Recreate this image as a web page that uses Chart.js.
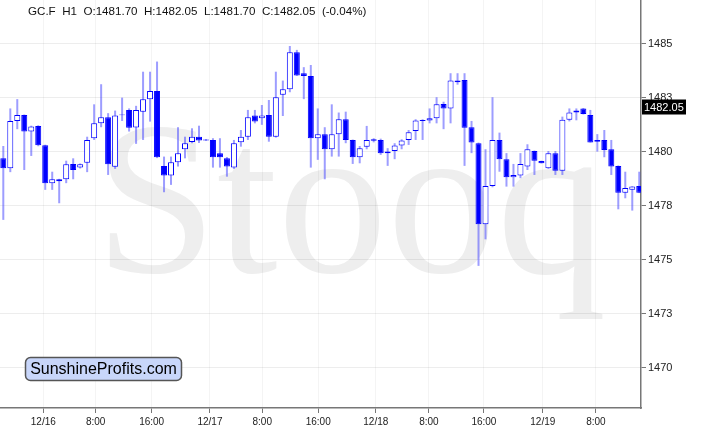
<!DOCTYPE html>
<html>
<head>
<meta charset="utf-8">
<script src="https://cdn.jsdelivr.net/npm/chart.js@4"></script>
<style>
  html, body { margin: 0; padding: 0; background: #fff; }
  #wrap { width: 701px; height: 438px; }
</style>
</head>
<body>
<div id="wrap"><canvas id="candles" width="701" height="438"></canvas></div>
<script>
// hourly GC.F candles, left to right
let open  = [1479.69,1479.23,1481.42,1481.69,1480.93,1481.19,1480.30,1478.54,1478.72,1478.72,
             1479.43,1479.26,1479.49,1480.62,1481.31,1481.59,1479.30,1481.72,1481.93,1481.12,
             1481.85,1482.43,1482.81,1479.34,1478.89,1479.51,1480.11,1480.45,1480.69,1480.56,
             1480.54,1479.93,1479.69,1479.26,1480.43,1480.69,1481.67,1481.55,1481.70,1480.69,
             1482.63,1482.89,1484.60,1483.63,1483.50,1480.62,1480.81,1480.11,1480.81,1481.50,
             1480.54,1479.74,1480.23,1480.50,1480.54,1479.93,1480.03,1480.28,1480.54,1480.96,
             1481.42,1481.44,1481.55,1482.21,1482.00,1483.21,1483.32,1481.13,1480.39,1476.64,
             1478.41,1480.54,1479.65,1478.81,1478.89,1479.31,1480.03,1479.57,1479.23,1479.93,
             1479.12,1481.47,1481.81,1482.00,1481.70,1480.46,1480.54,1480.11,1479.34,1478.10,
             1478.23,1478.41];
let high  = [1480.26,1482.00,1482.43,1481.72,1481.20,1481.22,1480.32,1479.07,1478.74,1479.58,
             1479.69,1479.45,1480.69,1482.19,1483.12,1481.78,1481.90,1482.50,1482.00,1482.12,
             1483.70,1483.70,1484.17,1479.77,1479.77,1481.13,1480.69,1481.08,1481.20,1480.58,
             1480.62,1480.62,1479.75,1480.54,1481.00,1481.93,1481.93,1482.16,1482.39,1483.70,
             1483.29,1484.89,1484.71,1483.91,1484.01,1482.00,1481.13,1482.19,1481.81,1481.85,
             1480.56,1480.26,1481.19,1480.62,1480.60,1480.16,1480.39,1480.57,1481.00,1481.50,
             1481.50,1482.00,1482.52,1482.31,1483.63,1483.63,1483.63,1481.42,1480.42,1480.11,
             1482.52,1480.88,1479.93,1479.43,1479.93,1480.34,1480.05,1479.58,1480.03,1480.03,
             1481.62,1482.00,1482.00,1482.02,1481.93,1480.81,1481.00,1480.54,1479.36,1479.07,
             1478.40,1479.07];
let low   = [1476.84,1479.05,1481.04,1479.15,1479.80,1480.25,1478.23,1478.23,1477.61,1478.54,
             1478.72,1479.22,1479.05,1480.54,1481.13,1478.92,1479.20,1481.42,1480.93,1480.36,
             1480.54,1481.39,1479.70,1478.12,1478.46,1479.31,1479.69,1480.39,1480.40,1480.50,
             1479.26,1479.26,1478.84,1479.20,1480.23,1480.54,1481.31,1481.24,1480.46,1480.65,
             1481.65,1482.75,1483.50,1482.43,1479.26,1479.62,1478.72,1479.77,1479.77,1480.39,
             1479.43,1479.46,1480.11,1480.43,1479.85,1479.34,1479.65,1480.11,1480.31,1480.54,
             1480.54,1481.31,1481.31,1481.04,1481.31,1483.10,1479.34,1479.93,1474.71,1475.94,
             1478.35,1479.07,1478.38,1478.38,1478.77,1479.15,1478.92,1479.45,1479.20,1478.92,
             1478.92,1481.40,1481.45,1481.72,1480.42,1480.00,1479.74,1478.92,1477.33,1477.84,
             1477.27,1478.08];
let close = [1479.23,1481.42,1481.69,1480.93,1481.16,1480.30,1478.54,1478.72,1478.63,1479.42,
             1479.15,1479.42,1480.54,1481.31,1481.59,1479.42,1481.67,1481.68,1481.11,1481.93,
             1482.43,1482.81,1479.74,1478.89,1479.51,1479.93,1480.39,1480.69,1480.51,1480.52,
             1479.74,1479.74,1479.31,1480.39,1480.69,1481.59,1481.39,1481.67,1480.69,1482.52,
             1482.89,1484.60,1483.52,1483.50,1480.62,1480.81,1480.11,1480.81,1481.50,1480.54,
             1479.74,1480.16,1480.54,1480.57,1479.93,1480.00,1480.28,1480.51,1480.90,1481.44,
             1481.46,1481.55,1482.19,1482.00,1483.29,1483.29,1481.11,1480.42,1476.64,1478.41,
             1480.54,1479.65,1478.81,1478.92,1479.43,1480.11,1479.58,1479.46,1479.93,1479.12,
             1481.47,1481.81,1481.90,1481.74,1480.42,1480.54,1480.08,1479.31,1478.10,1478.31,
             1478.38,1478.10];

// time axis labels, placed at bar positions (fractional)
let xTickPos    = [5.72, 13.22, 21.23, 29.57, 37.05, 45.06, 53.3, 60.9, 68.77, 77.2, 84.8];
let xTickLabels = ['12/16','8:00','16:00','12/17','8:00','16:00','12/18','8:00','16:00','12/19','8:00'];
let yTicks = [1470, 1472.5, 1475, 1477.5, 1480, 1482.5, 1485];

let headerText = 'GC.F  H1  O:1481.70  H:1482.05  L:1481.70  C:1482.05  (-0.04%)';
let lastPrice = 1482.05;
let logoText = 'SunshineProfits.com';
let watermark = 'Stooq';

let idx = open.map((_, i) => i);
let bodies = idx.map(i => ({ x: i, y: [Math.min(open[i], close[i]), Math.max(open[i], close[i])] }));
let wicks  = idx.map(i => ({ x: i, y: [low[i], high[i]] }));
let isUp = i => close[i] >= open[i];

let BLUE = '#0000ff';

let overlay = {
    id: 'overlay',
    beforeDraw(chart) {
        let ctx = chart.ctx;
        ctx.save();
        ctx.fillStyle = '#eeeeee';
        ctx.font = '219px "Liberation Serif", "Times New Roman", serif';
        ctx.textBaseline = 'alphabetic';
        ctx.textAlign = 'left';
        ctx.fillText(watermark, 95, 272);
        ctx.restore();
    },
    afterDraw(chart) {
        let ctx = chart.ctx;
        let y = chart.scales.y;
        ctx.save();
        // header
        ctx.fillStyle = '#111';
        ctx.font = '11.6px "Liberation Sans", Arial, sans-serif';
        ctx.textBaseline = 'middle';
        ctx.textAlign = 'left';
        ctx.fillText(headerText, 28, 12);

        // last price tag
        let py = y.getPixelForValue(lastPrice);
        ctx.fillStyle = '#000';
        ctx.fillRect(642, Math.round(py) - 7.5, 44, 15);
        ctx.fillStyle = '#fff';
        ctx.font = '11px "Liberation Sans", Arial, sans-serif';
        ctx.fillText(lastPrice.toFixed(2), 644, py + 0.5);

        // logo box
        ctx.beginPath();
        ctx.roundRect(25.5, 357.5, 156, 23, 5);
        ctx.fillStyle = '#c8d6fa';
        ctx.fill();
        ctx.lineWidth = 1.5;
        ctx.strokeStyle = '#555';
        ctx.stroke();
        ctx.fillStyle = '#000';
        ctx.font = '16px "Liberation Sans", Arial, sans-serif';
        ctx.textAlign = 'center';
        ctx.fillText(logoText, 103.5, 369.5);
        ctx.restore();
    }
};

let chart = new Chart(document.getElementById('candles').getContext('2d'), {
    type: 'bar',
    data: {
        datasets: [{
            data: bodies,
            grouped: false,
            barThickness: 6,
            borderWidth: 1,
            borderSkipped: false,
            inflateAmount: 0,
            borderColor: BLUE,
            backgroundColor: c => isUp(c.dataIndex) ? '#ffffff' : BLUE
        }, {
            data: wicks,
            grouped: false,
            barThickness: 2,
            borderWidth: 0,
            inflateAmount: 0,
            backgroundColor: 'rgba(60,60,255,0.5)'
        }]
    },
    options: {
        responsive: false,
        animation: false,
        devicePixelRatio: 1,
        layout: { padding: 0 },
        plugins: { legend: { display: false }, tooltip: { enabled: false } },
        scales: {
            x: {
                type: 'linear',
                min: -0.472,
                max: 91.25,
                offset: false,
                grid: { color: 'rgba(0,0,0,0.045)', offset: false, tickLength: 5, tickColor: '#777' },
                border: { color: '#777', width: 1.5 },
                afterBuildTicks: s => { s.ticks = xTickPos.map(v => ({ value: v })); },
                afterFit: s => { s.height = 30; s.paddingLeft = 0; s.paddingRight = 0; },
                ticks: {
                    autoSkip: false,
                    maxRotation: 0,
                    padding: 3,
                    color: '#222',
                    font: { family: '"Liberation Sans", Arial, sans-serif', size: 10 },
                    callback: (v, i) => xTickLabels[i]
                }
            },
            y: {
                position: 'right',
                min: 1468.13,
                max: 1487.02,
                grid: { color: 'rgba(0,0,0,0.07)', tickLength: 5, tickColor: '#777' },
                border: { color: '#777', width: 1.5 },
                afterBuildTicks: s => { s.ticks = yTicks.map(v => ({ value: v })); },
                afterFit: s => { s.width = 60; s.paddingTop = 0; s.paddingBottom = 0; },
                ticks: {
                    padding: 2,
                    color: '#222',
                    font: { family: '"Liberation Sans", Arial, sans-serif', size: 11 },
                    callback: v => Math.round(v)
                }
            }
        }
    },
    plugins: [overlay]
});
</script>
</body>
</html>
